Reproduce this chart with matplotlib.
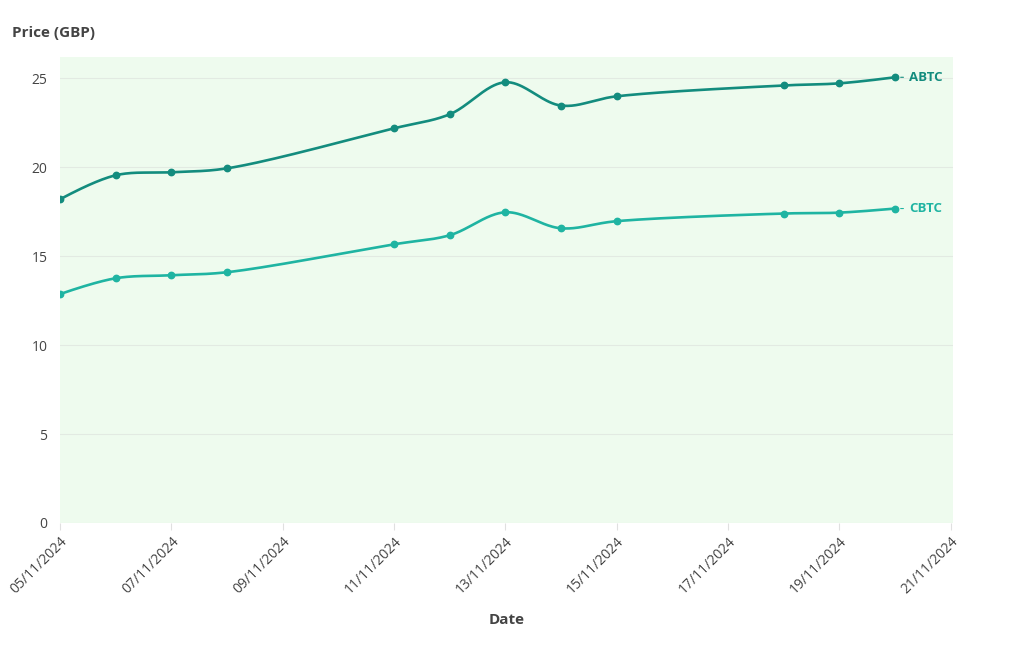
import numpy as np
import pandas as pd
import matplotlib
matplotlib.use("Agg")
import matplotlib.pyplot as plt
import matplotlib.dates as mdates

# --- data ---
dates = ["2024-11-05", "2024-11-06", "2024-11-07", "2024-11-08", "2024-11-11",
         "2024-11-12", "2024-11-13", "2024-11-14", "2024-11-15", "2024-11-18",
         "2024-11-19", "2024-11-20"]
abtc = [18.2, 19.55, 19.72, 19.94, 22.19, 22.98, 24.78, 23.47, 23.99, 24.6, 24.72, 25.06]
cbtc = [12.87, 13.76, 13.93, 14.1, 15.67, 16.18, 17.47, 16.57, 16.97, 17.4, 17.45, 17.68]
series_names = ["ABTC", "CBTC"]
series_colors = ["#138c7e", "#1fb4a2"]
y_ticks = [0, 5, 10, 15, 20, 25]

plt.rcParams["font.family"] = ["Open Sans", "DejaVu Sans"]

x = mdates.date2num(pd.to_datetime(dates))
xmin = mdates.date2num(pd.Timestamp("2024-11-05"))
xmax = mdates.date2num(pd.Timestamp("2024-11-21")) + 0.04
ymin, ymax = 0, 26.2

fig = plt.figure(figsize=(10.2, 6.5), dpi=100)
ax = fig.add_axes([60 / 1020, 1 - 523 / 650, (953 - 60) / 1020, (523 - 57) / 650])
ax.set_facecolor("#eefbee")
ax.set_xlim(xmin, xmax)
ax.set_ylim(ymin, ymax)

# pixels per data unit, so the spline is built like the original (in screen space)
sx = 893 / (xmax - xmin)
sy = 466 / (ymax - ymin)


def tangent(p0, p1, p2, smooth=1.0):
    d1 = p0 - p1
    d2 = p2 - p1
    d1a = np.hypot(*d1) ** 0.5
    d2a = np.hypot(*d2) ** 0.5
    num = (d2a * d2a * d1 - d1a * d1a * d2) * smooth
    den1 = 3 * d2a * (d1a + d2a)
    den2 = 3 * d1a * (d1a + d2a)
    return p1 + num / den1, p1 - num / den2


def smooth_line(xs, ys, n=40):
    pts = np.column_stack([np.asarray(xs) * sx, np.asarray(ys) * sy])
    tans = [tangent(pts[i - 1], pts[i], pts[i + 1]) for i in range(1, len(pts) - 1)]
    t = np.linspace(0, 1, n)[:, None]
    out = []
    # first segment: quadratic
    a, c, b = pts[0], tans[0][0], pts[1]
    out.append((1 - t) ** 2 * a + 2 * (1 - t) * t * c + t ** 2 * b)
    for i in range(2, len(pts) - 1):
        a, c1, c2, b = pts[i - 1], tans[i - 2][1], tans[i - 1][0], pts[i]
        out.append((1 - t) ** 3 * a + 3 * (1 - t) ** 2 * t * c1
                   + 3 * (1 - t) * t ** 2 * c2 + t ** 3 * b)
    a, c, b = pts[-2], tans[-1][1], pts[-1]
    out.append((1 - t) ** 2 * a + 2 * (1 - t) * t * c + t ** 2 * b)
    curve = np.vstack(out)
    return curve[:, 0] / sx, curve[:, 1] / sy


for name, vals, col in zip(series_names, [abtc, cbtc], series_colors):
    cx, cy = smooth_line(x, vals)
    ax.plot(cx, cy, color=col, lw=1.9, zorder=3, solid_capstyle="round")
    ax.plot(x, vals, "o", color=col, ms=4.6, zorder=4)
    ax.annotate(name, xy=(x[-1], vals[-1]), xytext=(10, 0), textcoords="offset points",
                ha="left", va="center", fontsize=9.5, fontweight="bold", color=col,
                arrowprops=dict(arrowstyle="-", color=col, lw=0.8, shrinkA=2, shrinkB=4),
                annotation_clip=False)

ax.set_yticks(y_ticks)
ax.grid(axis="y", color="#e2eae2", lw=0.8)
ax.set_axisbelow(True)
for s in ax.spines.values():
    s.set_visible(False)

ax.xaxis.set_major_locator(mdates.DayLocator(bymonthday=[5, 7, 9, 11, 13, 15, 17, 19, 21]))
ax.xaxis.set_major_formatter(mdates.DateFormatter("%d/%m/%Y"))
ax.tick_params(axis="x", length=5, color="#e0e0e0", pad=3, labelsize=10, labelcolor="#444444")
ax.tick_params(axis="y", length=0, pad=9, labelsize=10, labelcolor="#444444")
for lab in ax.get_xticklabels():
    lab.set_rotation(45)
    lab.set_ha("right")
    lab.set_va("top")
    lab.set_rotation_mode("anchor")

fig.text(12 / 1020, 1 - 33 / 650, "Price (GBP)", fontsize=11, fontweight="bold",
         color="#444444", ha="left", va="center")
fig.text(507 / 1020, 1 - 620 / 650, "Date", fontsize=11, fontweight="bold",
         color="#444444", ha="center", va="center")

fig.savefig("out.png", dpi=100)
